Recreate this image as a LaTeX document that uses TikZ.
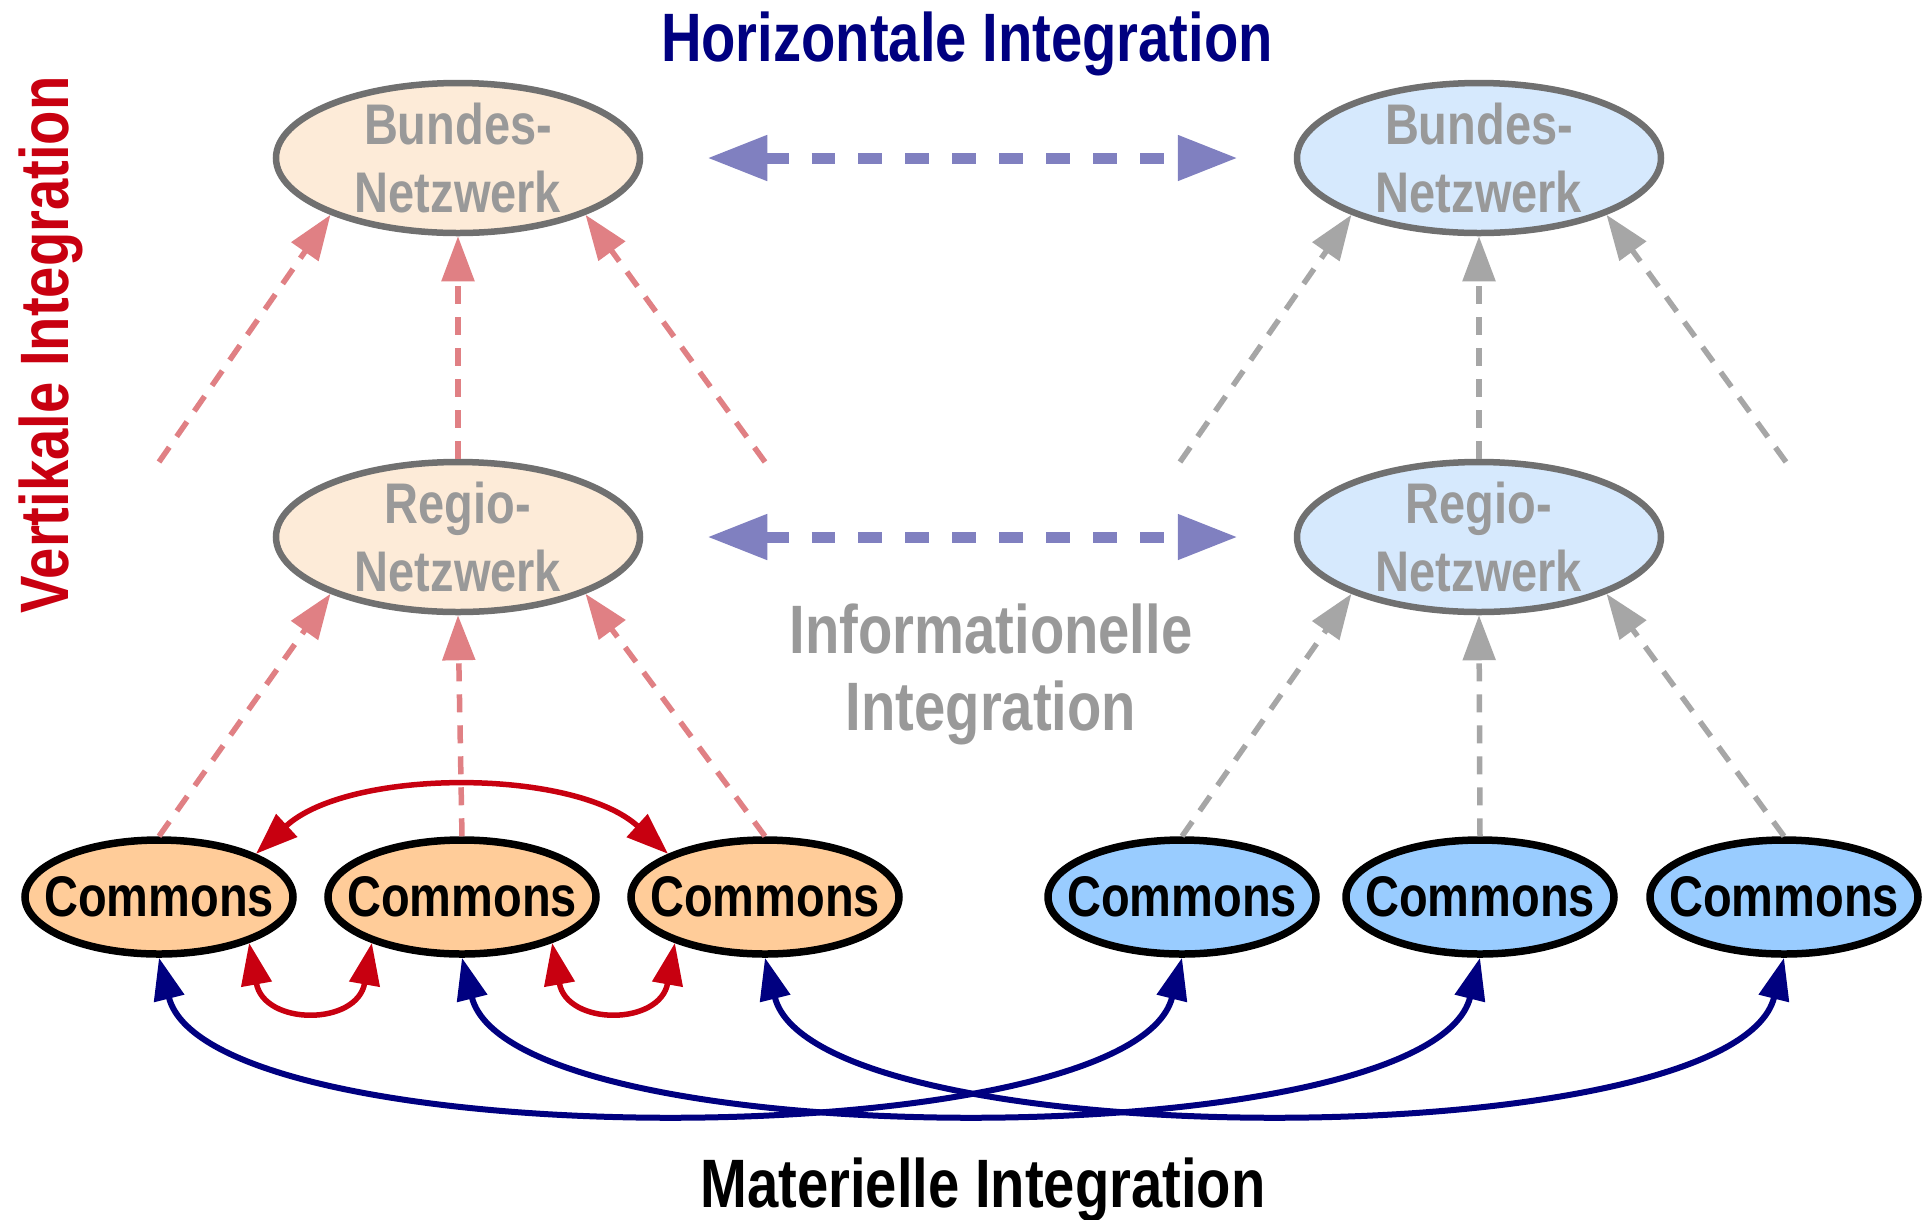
\documentclass[tikz,border=0pt]{standalone}
\usepackage{fontspec}
\newfontfamily\nar{Liberation Sans Bold}[FakeStretch=0.82]
\usetikzlibrary{arrows.meta,shapes.geometric}
\definecolor{netborder}{RGB}{112,112,112}
\definecolor{peachL}{RGB}{253,235,216}
\definecolor{blueL}{RGB}{214,233,253}
\definecolor{peach}{RGB}{255,204,153}
\definecolor{skyb}{RGB}{153,204,255}
\definecolor{txtgray}{RGB}{153,153,153}
\definecolor{dashred}{RGB}{224,128,132}
\definecolor{dashgray}{RGB}{166,166,166}
\definecolor{horblue}{RGB}{128,128,192}
\definecolor{darkred}{RGB}{200,0,16}
\definecolor{navyb}{RGB}{0,0,128}
\begin{document}
\begin{tikzpicture}[x=0.1mm,y=-0.1mm,
  net/.style={ellipse, draw=netborder, line width=0.65mm, minimum width=36.4mm, minimum height=15mm, inner sep=0pt},
  comm/.style={ellipse, draw=black, line width=0.75mm, minimum width=26.8mm, minimum height=11.4mm, inner sep=0pt},
  nettext/.style={text=txtgray, align=center, font=\nar\fontsize{16.3}{19.3}\selectfont, inner sep=0pt},
  commtext/.style={text=black, font=\nar\fontsize{16.3}{19.3}\selectfont, inner sep=0pt},
  bigtext/.style={font=\nar\fontsize{19.5}{22.5}\selectfont, inner sep=0pt},
  reddash/.style={draw=dashred, line width=0.55mm, dash pattern=on 1.8mm off 1.3mm, -{Triangle[length=4.5mm,width=3.2mm]}},
  graydash/.style={draw=dashgray, line width=0.55mm, dash pattern=on 1.8mm off 1.3mm, -{Triangle[length=4.5mm,width=3.2mm]}},
  hor/.style={draw=horblue, line width=1.1mm, dash pattern=on 2.4mm off 2.3mm, {Triangle[length=6mm,width=4.3mm]}-{Triangle[length=6mm,width=4.3mm]}, shorten <=6.4mm, shorten >=5.6mm},
  redarc/.style={draw=darkred, line width=0.55mm, {Triangle[length=4.2mm,width=3mm]}-{Triangle[length=4.2mm,width=3mm]}},
  bluearc/.style={draw=navyb, line width=0.6mm, {Triangle[length=4.2mm,width=3mm]}-{Triangle[length=4.2mm,width=3mm]}}
]
\useasboundingbox (0,0) rectangle (1931,1219);
\fill[white] (0,0) rectangle (1931,1219);

% network nodes
\node[net, fill=peachL, label={[nettext]center:Bundes-\\Netzwerk}] (bl) at (458,158) {};
\node[net, fill=peachL, label={[nettext]center:Regio-\\Netzwerk}] (rl) at (458,537) {};
\node[net, fill=blueL, label={[nettext]center:Bundes-\\Netzwerk}] (br) at (1479,158) {};
\node[net, fill=blueL, label={[nettext]center:Regio-\\Netzwerk}] (rr) at (1479,537) {};

% commons
\node[comm, fill=peach, label={[commtext]center:Commons}] (c1) at (159,897) {};
\node[comm, fill=peach, label={[commtext]center:Commons}] (c2) at (462,897) {};
\node[comm, fill=peach, label={[commtext]center:Commons}] (c3) at (765,897) {};
\node[comm, fill=skyb, label={[commtext]center:Commons}] (c4) at (1182,897) {};
\node[comm, fill=skyb, label={[commtext]center:Commons}] (c5) at (1480,897) {};
\node[comm, fill=skyb, label={[commtext]center:Commons}] (c6) at (1784,897) {};

% free ends
\coordinate (fl1) at (159,462);
\coordinate (fl2) at (765,462);
\coordinate (fr1) at (1180,462);
\coordinate (fr2) at (1786,462);

% labels
\node[bigtext, text=navyb, anchor=base] (th) at (967,61) {Horizontale Integration};
\node[bigtext, text=darkred, anchor=base, rotate=90] (tv) at (68,345) {Vertikale Integration};
\node[bigtext, text=txtgray, anchor=base] (ti1) at (991,653) {Informationelle};
\node[bigtext, text=txtgray, anchor=base] (ti2) at (991,730) {Integration};
\node[bigtext, text=black, anchor=base] (tm) at (983,1207) {Materielle Integration};

% vertical dashed connectors (left)
\draw[reddash] (c1.north) -- (rl.204);
\draw[reddash] (c2.north) -- (rl.south);
\draw[reddash] (c3.north) -- (rl.336);
\draw[reddash] (fl1) -- (bl.204);
\draw[reddash] (rl.north) -- (bl.south);
\draw[reddash] (fl2) -- (bl.336);

% vertical dashed connectors (right)
\draw[graydash] (c4.north) -- (rr.204);
\draw[graydash] (c5.north) -- (rr.south);
\draw[graydash] (c6.north) -- (rr.336);
\draw[graydash] (fr1) -- (br.204);
\draw[graydash] (rr.north) -- (br.south);
\draw[graydash] (fr2) -- (br.336);

% horizontal
\draw[hor] (bl) -- (br);
\draw[hor] (rl) -- (rr);

% red arcs between commons
\draw[redarc] (c1.24) .. controls (349,768) and (574,768) .. (c3.156);
\draw[redarc] (c1.333) .. controls (264,1026) and (357,1026) .. (c2.207);
\draw[redarc] (c2.333) .. controls (567,1026) and (660,1026) .. (c3.207);

% blue material curves
\draw[bluearc] (c1.south) .. controls (209,1158) and (1132,1158) .. (c4.south);
\draw[bluearc] (c2.south) .. controls (512,1158) and (1430,1158) .. (c5.south);
\draw[bluearc] (c3.south) .. controls (815,1158) and (1734,1158) .. (c6.south);
\end{tikzpicture}
\end{document}
